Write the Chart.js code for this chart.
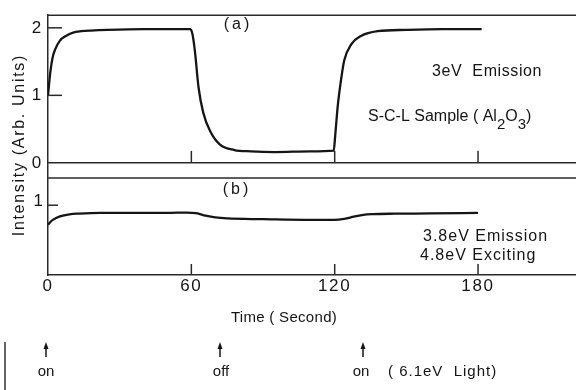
<!DOCTYPE html>
<html><head><meta charset="utf-8">
<script src="https://cdn.jsdelivr.net/npm/chart.js@4.4.1/dist/chart.umd.min.js"></script>
<style>html,body{margin:0;padding:0;background:#fff;}#wrap{width:576px;height:390px;position:relative;}</style>
</head><body><div id="wrap"><canvas id="c" width="576" height="390"></canvas></div>
<script>
// ---- data ----
const timeA = [0, 1, 2, 3, 5, 7.5, 10.5, 14, 18, 25, 40, 59.6, 60.5, 61.5, 63, 65, 68, 72, 78, 85, 95, 110, 119.6, 120.2, 121.3, 122.7, 124, 127, 131, 138, 150, 165, 181.5];
const intensityA = [1.0, 1.35, 1.57, 1.68, 1.81, 1.88, 1.93, 1.95, 1.96, 1.97, 1.98, 1.98, 1.90, 1.65, 1.12, 0.74, 0.46, 0.27, 0.19, 0.17, 0.16, 0.17, 0.18, 0.40, 0.85, 1.24, 1.52, 1.76, 1.88, 1.95, 1.97, 1.98, 1.98];
const timeB = [0, 1, 2, 5, 9, 13, 22, 35, 50, 58, 62, 66, 70, 75, 90, 110, 120, 124, 128, 132, 136, 145, 160, 180];
const intensityB = [0.72, 0.76, 0.79, 0.84, 0.87, 0.88, 0.89, 0.89, 0.89, 0.895, 0.885, 0.85, 0.825, 0.81, 0.80, 0.79, 0.79, 0.805, 0.835, 0.862, 0.872, 0.878, 0.882, 0.89];
const xTicks = [0, 60, 120, 180];
const yTicksA = [0, 1, 2];
const yTicksB = [1];
const xRange = [0, 221];
const yRangeA = [-1.661, 2.187];
const yRangeB = [0, 3.722];
const panelBTop = 1.389;

const INK = '#151515';
const FRAME = '#2a2a2a';
const FAM = '"Liberation Sans", Arial, sans-serif';

const decor = {
  id: 'decor',
  beforeDraw(chart) {
    const c = chart.ctx;
    c.save(); c.fillStyle = '#fff'; c.fillRect(0, 0, chart.width, chart.height); c.restore();
    c.letterSpacing = '1.7px';
  },
  afterDraw(chart) {
    const {ctx, chartArea: a, scales: {x, ya, yb}} = chart;
    ctx.save();
    ctx.strokeStyle = FRAME; ctx.lineWidth = 1.5;
    const line = (x1, y1, x2, y2) => { ctx.beginPath(); ctx.moveTo(x1, y1); ctx.lineTo(x2, y2); ctx.stroke(); };
    // frame lines
    line(a.left, a.top, a.right, a.top);
    const y0a = ya.getPixelForValue(0);
    line(a.left, y0a, a.right, y0a);
    const ybt = yb.getPixelForValue(panelBTop);
    line(a.left, ybt, a.right, ybt);
    const y0b = yb.getPixelForValue(0);
    // inward tick marks
    xTicks.filter(t => t > 0).forEach(t => {
      const px = x.getPixelForValue(t);
      line(px, y0a, px, y0a - 12);
      line(px, y0b, px, y0b - 11);
    });
    yTicksA.filter(v => v > 0).forEach(v => {
      const py = ya.getPixelForValue(v);
      line(a.left, py, a.left + 14, py);
    });
    yTicksB.forEach(v => {
      const py = yb.getPixelForValue(v);
      line(a.left, py, a.left + 10, py);
    });
    // panel b tick label
    ctx.fillStyle = INK;
    ctx.font = '17px ' + FAM;
    ctx.textBaseline = 'middle';
    ctx.textAlign = 'right';
    ctx.letterSpacing = '0px';
    yTicksB.forEach(v => ctx.fillText(String(v), a.left - 5, yb.getPixelForValue(v) - 4));

    const txt = (s, px, py, size, align, ls) => {
      ctx.font = size + 'px ' + FAM; ctx.textAlign = align || 'left';
      ctx.letterSpacing = (ls || 0) + 'px';
      ctx.fillText(s, px, py);
    };
    txt('(a)', 238, 25, 16, 'center', 3);
    txt('3eV  Emission', 432, 72, 16, 'left', 0.6);
    // S-C-L Sample ( Al2O3)
    ctx.letterSpacing = '0px';
    let cx = 368; const cy = 117;
    const seg = (s, dy, size) => { ctx.font = size + 'px ' + FAM; ctx.textAlign = 'left'; ctx.fillText(s, cx, cy + dy); cx += ctx.measureText(s).width; };
    seg('S-C-L Sample ( Al', 0, 16); seg('2', 8, 15); seg('O', 0, 16); seg('3', 8, 15); seg(')', 0, 16);
    txt('(b)', 237, 190, 16, 'center', 3);
    txt('3.8eV Emission', 423, 237, 16, 'left', 1);
    txt('4.8eV Exciting', 420, 256, 16, 'left', 1);
    txt('Time ( Second)', 284, 318, 15, 'center', 0.3);
    // light events
    [46, 220, 363].forEach(px => {
      ctx.strokeStyle = INK; ctx.lineWidth = 1.5;
      line(px, 347, px, 357);
      ctx.beginPath(); ctx.moveTo(px, 342); ctx.lineTo(px - 2.5, 349); ctx.lineTo(px + 2.5, 349); ctx.closePath(); ctx.fill();
    });
    txt('on', 46, 372, 15, 'center', 0);
    txt('off', 221, 372, 15, 'center', 0);
    txt('on', 361, 372, 15, 'center', 0);
    txt('( 6.1eV  Light)', 388, 372, 15, 'left', 1);
    ctx.strokeStyle = '#333'; ctx.lineWidth = 1.5;
    line(5, 342, 5, 390);
    ctx.restore();
  }
};

new Chart(document.getElementById('c'), {
  type: 'line',
  data: {
    datasets: [
      { data: timeA.map((t, i) => ({x: t, y: intensityA[i]})), xAxisID: 'x', yAxisID: 'ya',
        borderColor: INK, borderWidth: 2.3, pointRadius: 0, cubicInterpolationMode: 'monotone', fill: false },
      { data: timeB.map((t, i) => ({x: t, y: intensityB[i]})), xAxisID: 'x', yAxisID: 'yb',
        borderColor: INK, borderWidth: 2.3, pointRadius: 0, cubicInterpolationMode: 'monotone', fill: false }
    ]
  },
  options: {
    responsive: false, animation: false, devicePixelRatio: 1,
    layout: { padding: {top: 7, left: 0, right: 0, bottom: 0}, autoPadding: false },
    plugins: { legend: {display: false}, tooltip: {enabled: false} },
    scales: {
      x: {
        type: 'linear', min: xRange[0], max: xRange[1],
        afterBuildTicks: s => { s.ticks = xTicks.map(v => ({value: v})); },
        afterFit: s => { s.height = 115; },
        grid: {display: false, drawTicks: false},
        border: {display: true, color: FRAME, width: 1.5},
        ticks: {color: INK, font: {family: FAM, size: 17}, padding: 1, maxRotation: 0, autoSkip: false}
      },
      ya: {
        type: 'linear', position: 'left', min: yRangeA[0], max: yRangeA[1],
        afterBuildTicks: s => { s.ticks = yTicksA.map(v => ({value: v})); },
        afterFit: s => { s.width = 48; },
        grid: {display: false, drawTicks: false},
        border: {display: true, color: FRAME, width: 1.5},
        ticks: {color: INK, font: {family: FAM, size: 17}, padding: 5},
        title: {display: true, text: 'Intensity (Arb. Units)', color: INK, font: {family: FAM, size: 16}, padding: {top: 10, bottom: 0}}
      },
      yb: { type: 'linear', display: false, min: yRangeB[0], max: yRangeB[1] }
    }
  },
  plugins: [decor]
});
</script></body></html>
